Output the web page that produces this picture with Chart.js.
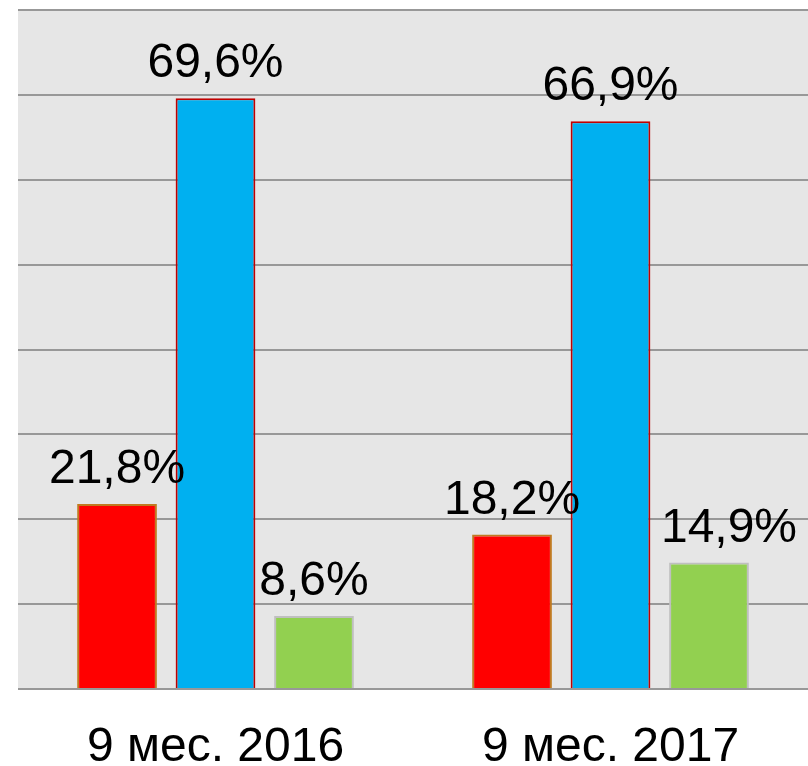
<!DOCTYPE html>
<html>
<head>
<meta charset="utf-8">
<script src="https://cdn.jsdelivr.net/npm/chart.js@4/dist/chart.umd.min.js"></script>
<style>
  html, body { margin: 0; padding: 0; background: #fff; }
  #wrap { width: 808px; height: 766px; }
</style>
</head>
<body>
<div id="wrap"><canvas id="myChart"></canvas></div>
<script>
// data
var categories = ['9 мес. 2016', '9 мес. 2017'];
var redValues = [21.8, 18.2];
var blueValues = [69.6, 66.9];
var greenValues = [8.6, 14.9];
var yTicks = [0, 10, 20, 30, 40, 50, 60, 70, 80];

// grey plot area behind the bars
var plotBg = {
  id: 'plotBg',
  beforeDraw: function (chart) {
    var a = chart.chartArea, ctx = chart.ctx;
    ctx.save();
    ctx.fillStyle = '#e6e6e6';
    ctx.fillRect(a.left, a.top, a.right - a.left, a.bottom - a.top);
    ctx.restore();
  }
};

// value labels above the bars, "21,8%" style
var valueLabels = {
  id: 'valueLabels',
  afterDatasetsDraw: function (chart) {
    var ctx = chart.ctx;
    ctx.save();
    ctx.font = '48px "Liberation Sans", Arial, sans-serif';
    ctx.fillStyle = '#000';
    ctx.textAlign = 'center';
    ctx.textBaseline = 'alphabetic';
    chart.data.datasets.forEach(function (ds, i) {
      var meta = chart.getDatasetMeta(i);
      meta.data.forEach(function (bar, j) {
        var txt = ds.data[j].toFixed(1).replace('.', ',') + '%';
        var dx = (i === 2 && j === 1) ? 20 : 0; // this one sits a bit right in the original
        ctx.fillText(txt, bar.x + dx, bar.y - 21);
      });
    });
    ctx.restore();
  }
};

new Chart(document.getElementById('myChart').getContext('2d'), {
  type: 'bar',
  data: {
    labels: categories,
    datasets: [
      { label: 'Ряд 1', data: redValues, backgroundColor: '#ff0000', borderColor: '#c07a20', borderWidth: 2 },
      { label: 'Ряд 2', data: blueValues, backgroundColor: '#00b0f0', borderColor: '#c00000', borderWidth: 2 },
      { label: 'Ряд 3', data: greenValues, backgroundColor: '#92d050', borderColor: '#bfbfbf', borderWidth: 2 }
    ]
  },
  options: {
    responsive: true,
    maintainAspectRatio: false,
    animation: false,
    layout: { padding: { left: 18, top: 10, right: 0, bottom: 0 } },
    categoryPercentage: 0.748,
    barPercentage: 0.81,
    plugins: {
      legend: { display: false },
      tooltip: { enabled: false }
    },
    scales: {
      x: {
        grid: { display: false },
        border: { display: false },
        ticks: {
          color: '#000',
          font: { family: '"Liberation Sans", Arial, sans-serif', size: 48 },
          padding: 22,
          maxRotation: 0
        },
        afterFit: function (axis) { axis.height = 77; }
      },
      y: {
        min: 0,
        max: 80,
        afterBuildTicks: function (axis) {
          axis.ticks = yTicks.map(function (v) { return { value: v }; });
        },
        ticks: { display: false },
        grid: { color: '#989898', lineWidth: 2, drawTicks: false },
        border: { display: false }
      }
    }
  },
  plugins: [plotBg, valueLabels]
});
</script>
</body>
</html>
